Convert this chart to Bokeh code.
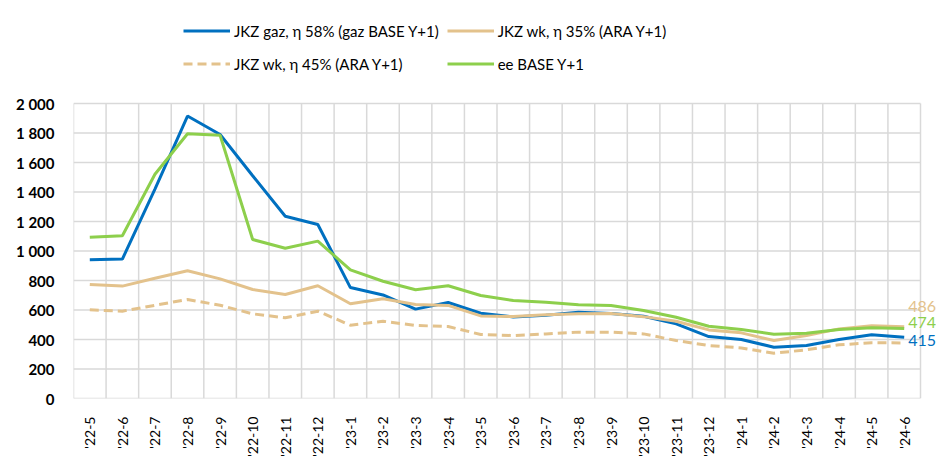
from bokeh.plotting import figure
from bokeh.models import (ColumnDataSource, FixedTicker, Legend, LegendItem, Range1d)
from bokeh.core.properties import value
from bokeh.embed import file_html
from bokeh.resources import INLINE

months = ["'22-5", "'22-6", "'22-7", "'22-8", "'22-9", "'22-10", "'22-11", "'22-12",
          "'23-1", "'23-2", "'23-3", "'23-4", "'23-5", "'23-6", "'23-7", "'23-8",
          "'23-9", "'23-10", "'23-11", "'23-12", "'24-1", "'24-2", "'24-3", "'24-4",
          "'24-5", "'24-6"]

jkz_gaz = [940, 945, 1420, 1915, 1790, 1510, 1236, 1180, 752, 702, 606, 651, 578, 553,
           565, 585, 577, 558, 506, 420, 400, 348, 359, 400, 432, 415]
jkz_wk35 = [773, 762, 815, 866, 811, 739, 705, 764, 642, 676, 637, 631, 560, 556,
            567, 574, 577, 555, 524, 465, 445, 393, 427, 472, 493, 486]
jkz_wk45 = [601, 592, 632, 671, 632, 574, 547, 592, 497, 524, 495, 488, 434, 427,
            438, 450, 450, 438, 393, 359, 343, 307, 330, 364, 378, 377]
ee_base = [1094, 1103, 1520, 1795, 1785, 1078, 1019, 1067, 872, 795, 737, 764, 698, 664,
           653, 635, 631, 597, 551, 490, 468, 436, 443, 468, 479, 474]

y_ticks = [0, 200, 400, 600, 800, 1000, 1200, 1400, 1600, 1800, 2000]
y_tick_labels = ["0", "200", "400", "600", "800", "1 000", "1 200", "1 400", "1 600",
                 "1 800", "2 000"]

end_labels = ["415", "486", "474"]
end_values = [jkz_gaz[-1], jkz_wk35[-1], ee_base[-1]]
end_label_shift = [3, -20, -6]

BLUE = "#0070C0"
TAN = "#E3C28C"
GREEN = "#8DCF4C"
GRID = "#D9D9D9"
FONT = "Lato"

# layout (pixels)
W, H = 936, 465
LEFT, BOTTOM = 73, 67
GRID_RIGHT, GRID_TOP = 920, 103
frame_w = W - LEFT
frame_h = H - BOTTOM
n = len(months)
x_end = n * frame_w / (GRID_RIGHT - LEFT)
y_end = y_ticks[-1] * frame_h / (H - BOTTOM - GRID_TOP)

xs = [i + 0.5 for i in range(n)]
src = ColumnDataSource(dict(x=xs, gaz=jkz_gaz, wk35=jkz_wk35, wk45=jkz_wk45, ee=ee_base))

p = figure(width=W, height=H, output_backend="svg", toolbar_location=None,
           x_range=Range1d(0, x_end), y_range=Range1d(0, y_end),
           min_border_left=LEFT, min_border_right=0, min_border_top=0,
           min_border_bottom=BOTTOM)
p.outline_line_color = None
p.background_fill_color = "white"
p.border_fill_color = "white"
p.xgrid.visible = False
p.ygrid.visible = False

# grid lines limited to the data area
vx = list(range(n + 1))
p.segment(x0=vx, x1=vx, y0=[y_ticks[0]] * len(vx), y1=[y_ticks[-1]] * len(vx),
          line_color=GRID, line_width=1.5)
p.segment(x0=[0] * len(y_ticks), x1=[n] * len(y_ticks), y0=y_ticks, y1=y_ticks,
          line_color=GRID, line_width=1.5)

r_gaz = p.line("x", "gaz", source=src, line_color=BLUE, line_width=3)
r_wk35 = p.line("x", "wk35", source=src, line_color=TAN, line_width=3)
r_wk45 = p.line("x", "wk45", source=src, line_color=TAN, line_width=3, line_dash="9 5")
r_ee = p.line("x", "ee", source=src, line_color=GREEN, line_width=3)

# x axis
p.xaxis.ticker = FixedTicker(ticks=xs)
p.xaxis.major_label_overrides = {x: m for x, m in zip(xs, months)}
p.xaxis.major_label_orientation = 1.5708
p.xaxis.major_label_text_font = FONT
p.xaxis.major_label_text_font_size = "14px"
p.xaxis.major_label_text_color = "black"
p.xaxis.major_label_standoff = 12
p.xaxis.axis_line_color = None
p.xaxis.major_tick_line_color = None
p.xaxis.minor_tick_line_color = None

# y axis
p.yaxis.ticker = FixedTicker(ticks=y_ticks)
p.yaxis.major_label_overrides = {t: l for t, l in zip(y_ticks, y_tick_labels)}
p.yaxis.major_label_text_font = FONT
p.yaxis.major_label_text_font_size = "15px"
p.yaxis.major_label_text_font_style = "bold"
p.yaxis.major_label_text_color = "black"
p.yaxis.major_label_standoff = 13
p.yaxis.axis_line_color = None
p.yaxis.major_tick_line_color = None
p.yaxis.minor_tick_line_color = None

# end labels
lab_src = ColumnDataSource(dict(x=[xs[-1]] * 3, y=end_values, text=end_labels,
                                color=[BLUE, TAN, GREEN], dy=end_label_shift))
p.text("x", "y", text="text", source=lab_src, text_color="color",
       text_font=value(FONT), text_font_size="16px", text_baseline="middle",
       text_align="left", x_offset=4, y_offset="dy")

# legend (filled column by column -> order chosen to read row by row)
legend = Legend(items=[
    LegendItem(label="JKZ gaz, η 58% (gaz BASE Y+1)", renderers=[r_gaz]),
    LegendItem(label="JKZ wk, η 45% (ARA Y+1)", renderers=[r_wk45]),
    LegendItem(label="JKZ wk, η 35% (ARA Y+1)", renderers=[r_wk35]),
    LegendItem(label="ee BASE Y+1", renderers=[r_ee]),
], ncols=2, location=(110, 322))
legend.label_text_font = FONT
legend.label_text_font_size = "15px"
legend.label_text_color = "black"
legend.glyph_width = 47
legend.glyph_height = 25
legend.label_height = 25
legend.label_standoff = 4
legend.spacing = 8
legend.padding = 0
legend.margin = 0
legend.border_line_color = None
legend.background_fill_alpha = 0
p.add_layout(legend, "center")

open("out.html", "w").write(file_html(p, INLINE))
